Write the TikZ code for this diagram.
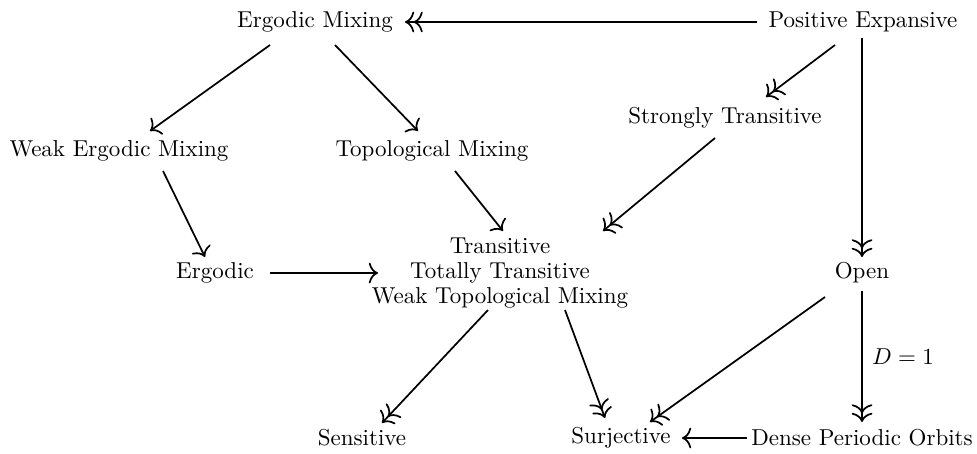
\documentclass[tikz,border=0pt]{standalone}
\usetikzlibrary{arrows.meta}
\begin{document}
\begin{tikzpicture}[x=0.4348pt,y=-0.4348pt,
  lbl/.style={inner sep=0pt, font=\normalsize},
  edge/.style={line width=0.75pt, -{Computer Modern Rightarrow[length=4pt,width=9pt]}},
  edgetwo/.style={line width=0.75pt, -{Computer Modern Rightarrow[length=4pt,width=9pt,sep=-0.3pt] Computer Modern Rightarrow[length=4pt,width=9pt]}}]
\useasboundingbox (0,0) rectangle (977,453);
\node[lbl] (em) at (315,22) {Ergodic Mixing};
\node[lbl] (pe) at (863,22) {Positive Expansive};
\node[lbl] (st) at (725,118) {Strongly Transitive};
\node[lbl] (wem) at (119,151) {Weak Ergodic Mixing};
\node[lbl] (tm) at (432,151) {Topological Mixing};
\node[lbl] (erg) at (215,273) {Ergodic};
\node[lbl, align=center] (trans) at (500,273) {Transitive\\[-1.3pt]Totally Transitive\\[-1.3pt]Weak Topological Mixing};
\node[lbl] (open) at (862,273) {Open};
\node[lbl] (sens) at (362,438) {Sensitive};
\node[lbl] (surj) at (621,438) {Surjective};
\node[lbl] (dpo) at (862,438) {Dense Periodic Orbits};

\draw[edgetwo] ([shift={(-106,0)}]pe.center) -- ([shift={(90,0)}]em.center);
\draw[edge] ([shift={(-45,23)}]em.center) -- ([shift={(31,-20)}]wem.center);
\draw[edge] ([shift={(20,23)}]em.center) -- ([shift={(-14,-20)}]tm.center);
\draw[edgetwo] ([shift={(-28,23)}]pe.center) -- ([shift={(41,-21)}]st.center);
\draw[edgetwo] ([shift={(-1,16)}]pe.center) -- ([shift={(0,-16)}]open.center);
\draw[edgetwo] ([shift={(-10,20)}]st.center) -- ([shift={(103,-42)}]trans.center);
\draw[edge] ([shift={(23,20)}]tm.center) -- ([shift={(3,-42)}]trans.center);
\draw[edge] ([shift={(44,20)}]wem.center) -- ([shift={(-10,-16)}]erg.center);
\draw[edge] ([shift={(55,0)}]erg.center) -- ([shift={(-122,0)}]trans.center);
\draw[edgetwo] ([shift={(-12,37)}]trans.center) -- ([shift={(20,-15)}]sens.center);
\draw[edgetwo] ([shift={(65,37)}]trans.center) -- ([shift={(-16,-20)}]surj.center);
\draw[edgetwo] ([shift={(-37,24)}]open.center) -- ([shift={(29,-16)}]surj.center);
\draw[edgetwo] ([shift={(0,18)}]open.center) -- node[right, inner sep=4pt] {$D=1$} ([shift={(0,-16)}]dpo.center);
\draw[edge] ([shift={(-115,0)}]dpo.center) -- ([shift={(61,0)}]surj.center);
\end{tikzpicture}
\end{document}
